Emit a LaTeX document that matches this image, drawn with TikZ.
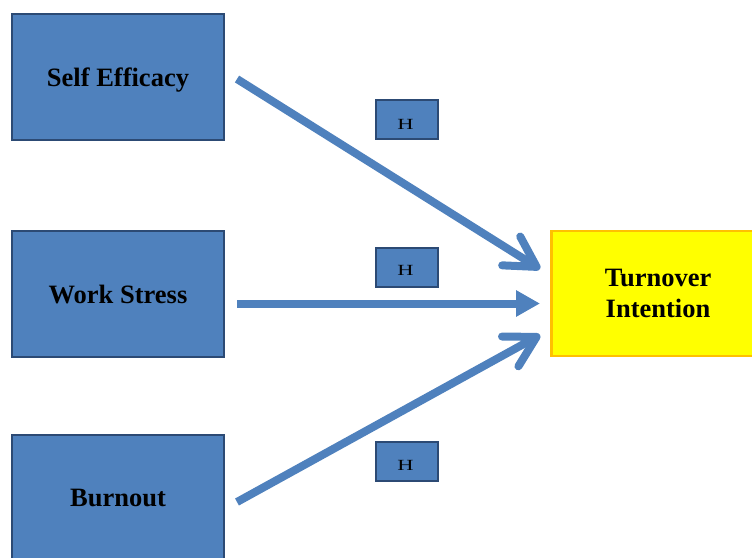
\documentclass[tikz,border=0pt]{standalone}
\usepackage{fontspec}
\setmainfont{Liberation Serif}
\usetikzlibrary{arrows.meta}
\definecolor{boxblue}{HTML}{4F81BD}
\definecolor{boxedge}{HTML}{2C4A74}
\definecolor{arrowblue}{HTML}{4F81BD}
\definecolor{ybox}{HTML}{FFFF00}
\definecolor{yedge}{HTML}{FFC000}
\tikzset{
  bluebox/.style={draw=boxedge, line width=2pt, fill=boxblue, minimum width=212pt, minimum height=126pt, inner sep=0pt, text depth=0pt, font=\fontsize{26.5}{30}\selectfont\bfseries},
  hbox/.style={draw=boxedge, line width=2pt, fill=boxblue, minimum width=62pt, minimum height=39pt, inner sep=0pt},
  hlabel/.style={inner sep=0pt, xscale=1.45, font=\fontsize{15.5}{15.5}\selectfont},
  yellowbox/.style={draw=yedge, line width=2.5pt, fill=ybox, minimum width=213pt, minimum height=125pt, inner sep=0pt, align=center, font=\fontsize{26.5}{30.5}\selectfont\bfseries},
  bigarrow/.style={draw=arrowblue, line width=8pt, -{Straight Barb[length=30pt,width=34pt,round]}},
  flatarrow/.style={draw=arrowblue, line width=8pt, -{Triangle[length=24pt,width=25pt]}}
}
\begin{document}
\begin{tikzpicture}[x=1pt,y=-1pt]
\useasboundingbox (0,0) rectangle (752,557);
\clip (0,0) rectangle (752,557);
\node[bluebox] (se) at (118,77) {Self Efficacy};
\node[bluebox] (ws) at (118,294) {Work Stress};
\node[bluebox] (bo) at (118,497.5) {Burnout};
\node[yellowbox] (ti) at (658,293.5) {Turnover\\Intention};
\node[hbox] (h1) at (406.5,119) {};
\node[hbox] (h2) at (406.5,267) {};
\node[hbox] (h3) at (406.5,461) {};
\node[hlabel] (l1) at (405.5,124) {H};
\node[hlabel] (l2) at (405.5,270) {H};
\node[hlabel] (l3) at (405.5,465) {H};
\coordinate (s1) at (237,79);
\coordinate (e1) at (540,269);
\coordinate (s2) at (237,303.5);
\coordinate (e2) at (540,303.5);
\coordinate (s3) at (237,502);
\coordinate (e3) at (540,335);
\draw[bigarrow] (s1) -- (e1);
\draw[flatarrow] (s2) -- (e2);
\draw[bigarrow] (s3) -- (e3);
\end{tikzpicture}
\end{document}
